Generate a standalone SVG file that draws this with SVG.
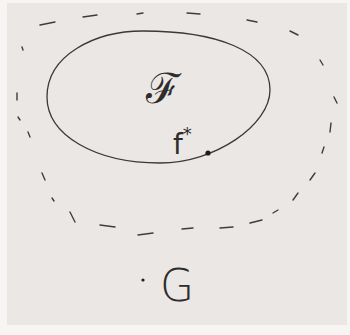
<svg xmlns="http://www.w3.org/2000/svg" width="350" height="335" viewBox="0 0 350 335">
<style>
.ink{fill:none;stroke:#3a3838;stroke-width:1.3;stroke-linecap:round}
.dash{fill:none;stroke:#3f3c3c;stroke-width:1.4;stroke-linecap:round}
.lbl{fill:#2e2c2c;font-family:"DejaVu Sans",sans-serif}
</style>
<rect x="0" y="0" width="350" height="335" fill="#f7f5f4"/>
<rect x="7" y="3" width="340" height="322" fill="#ebe7e5"/>
<g id="outer-region">
<path class="dash" d="M40,25 L55,22 M83,17 L97,15 M137,14 L143,13 M187,13 L200,14 M247,20 L257,22 M290,31 L298,35 M320,60 L323,65 M334,97 L337,103 M331,123 L330,132 M324,147 L322,153 M315,173 L310,180 M298,193 L293,200 M278,210 L273,213 M262,220 L250,223 M233,227 L220,228 M193,228 L182,229 M153,233 L138,235 M115,227 L100,225 M75,222 L70,212 M54,201 L52,198 M45,180 L42,173 M30,137 L28,132 M20,120 L18,117 M17,100 L17,93 M23,50 L22,47"/>
</g>
<g id="set-F">
<path class="ink" d="M47,97 C47,55 95,31 143,31 C215,31 270,50 270,90 C270,125 215,163 160,163 C95,163 47,135 47,97 Z"/>
<text class="lbl" x="163" y="103" font-size="42" text-anchor="middle" font-weight="300">ℱ</text>
</g>
<g id="f-star">
<circle cx="208" cy="153" r="2.6" fill="#1e1c1c"/>
<text class="lbl" x="173" y="154" font-size="28">f<tspan dy="-14" font-size="18">*</tspan></text>
</g>
<g id="G">
<circle cx="143" cy="280" r="1.6" fill="#1e1c1c"/>
<text class="lbl" x="160" y="301" font-size="44" font-family="'Liberation Sans',sans-serif" font-weight="300">G</text>
</g>
</svg>
